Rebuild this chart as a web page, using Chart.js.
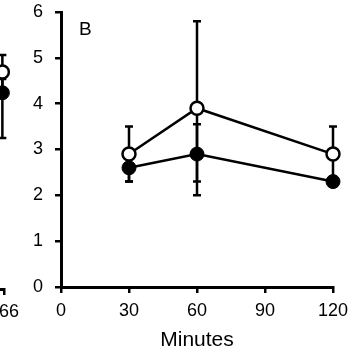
<!DOCTYPE html>
<html>
<head>
<meta charset="utf-8">
<script src="https://cdn.jsdelivr.net/npm/chart.js@4"></script>
<style>
  html, body { margin: 0; padding: 0; background: #fff; }
  #wrap { position: relative; width: 355px; height: 355px; overflow: hidden; background: #fff; }
  #left { position: absolute; left: -280px; top: 0; }
  #main { position: absolute; left: 0; top: 0; }
</style>
</head>
<body>
<div id="wrap">
  <canvas id="left" width="320" height="355"></canvas>
  <canvas id="main" width="355" height="355"></canvas>
</div>
<script>
// ---- Panel B data ----
const minutes = [30, 60, 120];
const xTicks = [0, 30, 60, 90, 120];
const yTicks = [0, 1, 2, 3, 4, 5, 6];
const openMeans = [2.9, 3.9, 2.9];
const openErrUp = [0.6, 1.9, 0.6];
const openErrDown = [0.6, 1.9, 0.6];
const filledMeans = [2.6, 2.9, 2.3];
const filledErrUp = [0.3, 0.65, 0.1];
const filledErrDown = [0.3, 0.6, 0.1];
const panelLabel = 'B';
const xTitle = 'Minutes';

// ---- cropped neighbouring panel (only its right edge is visible) ----
const leftX = [165];
const leftOpenMeans = [4.7];
const leftOpenErrUp = [0.37];
const leftOpenErrDown = [0.37];
const leftFilledMeans = [4.25];
const leftFilledErrUp = [0.3];
const leftFilledErrDown = [0.98];
const leftTick = [166];
const leftTickLabel = '166';

const tickFont = { family: "'Liberation Sans', Arial, sans-serif", size: 18 };
const titleFont = { family: "'Liberation Sans', Arial, sans-serif", size: 21 };

const errorBarPlugin = {
  id: 'errorBars',
  beforeDatasetsDraw(chart) {
    const ctx = chart.ctx;
    const xs = chart.scales.x, ys = chart.scales.y;
    ctx.save();
    ctx.strokeStyle = '#000';
    ctx.lineWidth = 2.5;
    chart.data.datasets.forEach(ds => {
      ds.data.forEach((p, i) => {
        const x = xs.getPixelForValue(p.x);
        const yTop = ys.getPixelForValue(p.y + ds.errUp[i]);
        const yBot = ys.getPixelForValue(p.y - ds.errDown[i]);
        const cap = 4;
        ctx.beginPath();
        ctx.moveTo(x, yTop); ctx.lineTo(x, yBot);
        ctx.moveTo(x - cap, yTop); ctx.lineTo(x + cap, yTop);
        ctx.moveTo(x - cap, yBot); ctx.lineTo(x + cap, yBot);
        ctx.stroke();
      });
    });
    ctx.restore();
  }
};

const panelLabelPlugin = {
  id: 'panelLabel',
  afterDraw(chart) {
    const ctx = chart.ctx;
    ctx.save();
    ctx.fillStyle = '#000';
    ctx.font = "19px 'Liberation Sans', Arial, sans-serif";
    ctx.textBaseline = 'alphabetic';
    ctx.fillText(panelLabel, 79, 35);
    ctx.restore();
  }
};

function pts(xv, yv) { return xv.map((x, i) => ({ x: x, y: yv[i] })); }

function series(label, xv, yv, up, down, filled) {
  return {
    label: label,
    data: pts(xv, yv),
    errUp: up,
    errDown: down,
    clip: false,
    borderColor: '#000',
    borderWidth: 2.5,
    backgroundColor: filled ? '#000' : '#fff',
    pointBackgroundColor: filled ? '#000' : '#fff',
    pointBorderColor: '#000',
    pointBorderWidth: filled ? 1 : 2.5,
    pointRadius: filled ? 7 : 6.5,
    pointHoverRadius: filled ? 7 : 6.5,
    tension: 0,
    fill: false
  };
}

// Main panel B
new Chart(document.getElementById('main'), {
  type: 'line',
  data: {
    datasets: [
      series('open', minutes, openMeans, openErrUp, openErrDown, false),
      series('filled', minutes, filledMeans, filledErrUp, filledErrDown, true)
    ]
  },
  options: {
    responsive: false,
    animation: false,
    events: [],
    layout: { padding: { left: 0, right: 22, top: 12, bottom: 0 } },
    plugins: { legend: { display: false }, tooltip: { enabled: false } },
    scales: {
      x: {
        type: 'linear',
        min: 0, max: 120,
        afterBuildTicks(s) { s.ticks = xTicks.map(v => ({ value: v })); },
        afterFit(s) { s.height = 68; s.paddingLeft = 0; s.paddingRight = 0; },
        border: { display: true, color: '#000', width: 3 },
        grid: { drawOnChartArea: false, drawTicks: true, tickLength: 6, color: '#000', lineWidth: 2.5 },
        ticks: { color: '#000', font: tickFont, padding: 7, maxRotation: 0 },
        title: { display: true, text: xTitle, color: '#000', font: titleFont, padding: { top: 0, bottom: 2 } }
      },
      y: {
        type: 'linear',
        min: 0, max: 6,
        afterBuildTicks(s) { s.ticks = yTicks.map(v => ({ value: v })); },
        afterFit(s) { s.width = 61; s.paddingTop = 0; s.paddingBottom = 0; },
        border: { display: true, color: '#000', width: 3 },
        grid: { drawOnChartArea: false, drawTicks: true, tickLength: 6, color: '#000', lineWidth: 2.5 },
        ticks: { color: '#000', font: tickFont, padding: 12 }
      }
    }
  },
  plugins: [errorBarPlugin, panelLabelPlugin]
});

// Cropped neighbouring panel (left)
new Chart(document.getElementById('left'), {
  type: 'line',
  data: {
    datasets: [
      series('open', leftX, leftOpenMeans, leftOpenErrUp, leftOpenErrDown, false),
      series('filled', leftX, leftFilledMeans, leftFilledErrUp, leftFilledErrDown, true)
    ]
  },
  options: {
    responsive: false,
    animation: false,
    events: [],
    layout: { padding: { left: 14, right: 36, top: 12, bottom: 0 } },
    plugins: { legend: { display: false }, tooltip: { enabled: false } },
    scales: {
      x: {
        type: 'linear',
        min: 0, max: 166,
        afterBuildTicks(s) { s.ticks = leftTick.map(v => ({ value: v })); },
        afterFit(s) { s.height = 66; },
        border: { display: true, color: '#000', width: 3 },
        grid: { drawOnChartArea: false, drawTicks: true, tickLength: 6, color: '#000', lineWidth: 2.5 },
        ticks: { color: '#000', font: tickFont, padding: 6, maxRotation: 0, callback: () => leftTickLabel }
      },
      y: {
        type: 'linear',
        min: 0, max: 6,
        display: false
      }
    }
  },
  plugins: [errorBarPlugin]
});
</script>
</body>
</html>
